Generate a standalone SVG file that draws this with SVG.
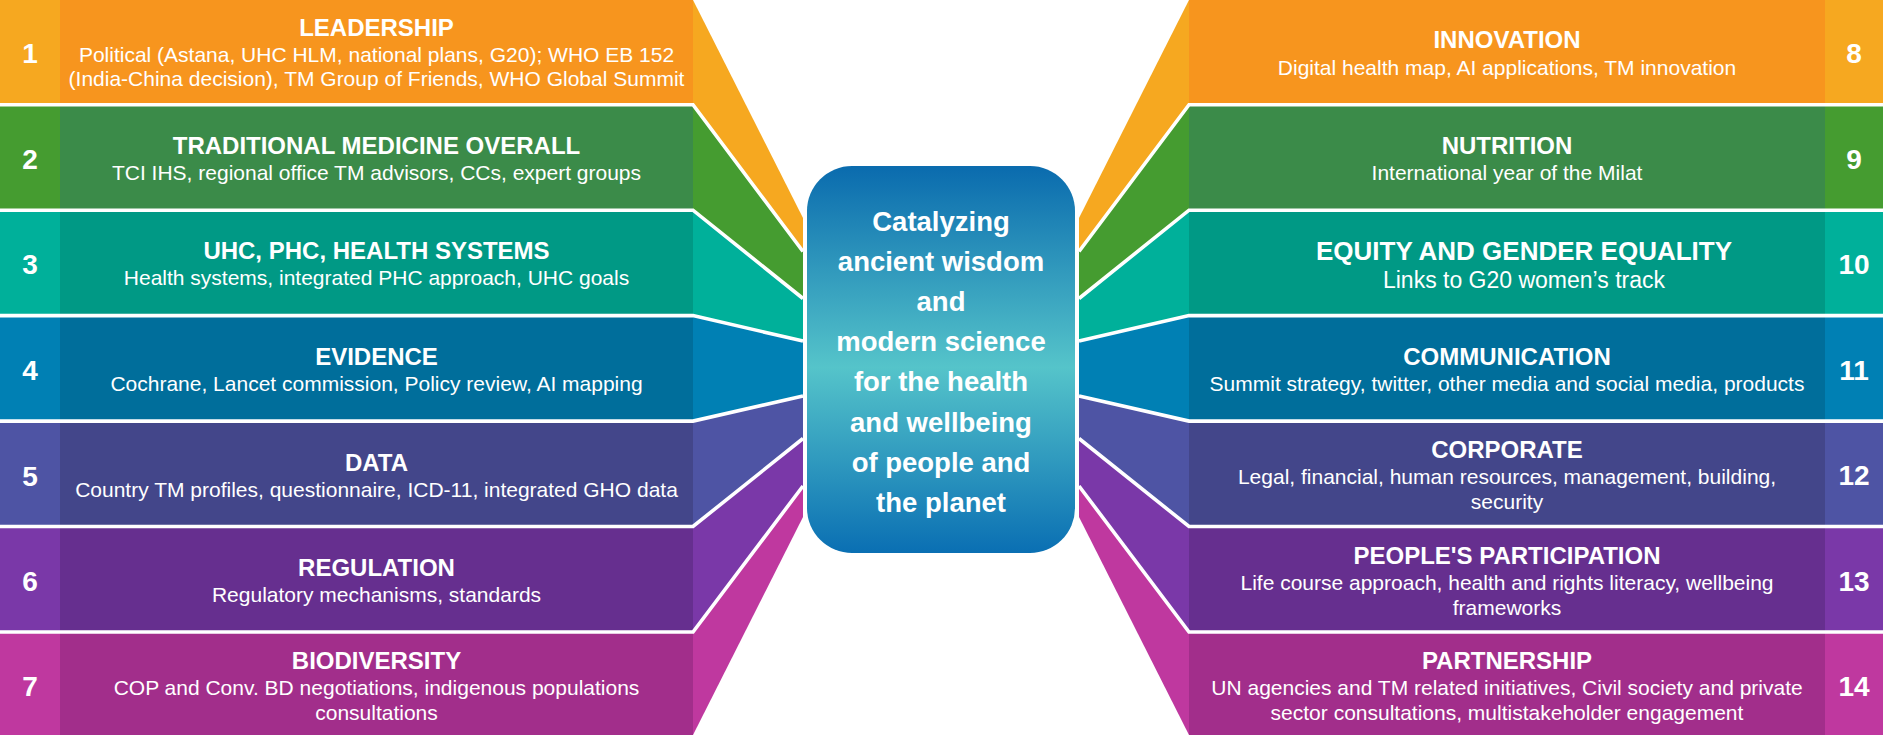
<svg xmlns="http://www.w3.org/2000/svg" width="1883" height="735" viewBox="0 0 1883 735">
<defs>
<style>
text{font-family:"Liberation Sans",Arial,sans-serif;fill:#fff;text-anchor:middle}
.t{font-size:24px;font-weight:bold}
.s{font-size:21px}
.n{font-size:28px;font-weight:bold}
.c{font-size:27.5px;font-weight:bold}
.sep{fill:none;stroke:#fff;stroke-width:3.6}
</style>
<linearGradient id="cg" x1="0" y1="0" x2="0" y2="1">
<stop offset="0" stop-color="#0A6BAE"/>
<stop offset="0.52" stop-color="#55C4CA"/>
<stop offset="1" stop-color="#0A6FB3"/>
</linearGradient>
</defs>
<rect width="1883" height="735" fill="#fff"/>

<g id="connectors">
<polygon points="693,0 803,218 803,251.5 693,104.7" fill="#F6A820"/>
<polygon points="693,104.7 803,251.5 803,298.5 693,210.2" fill="#459C30"/>
<polygon points="693,210.2 803,298.5 803,341 693,315.6" fill="#00B09A"/>
<polygon points="693,315.6 803,341 803,396 693,421.1" fill="#0080B4"/>
<polygon points="693,421.1 803,396 803,438.5 693,526.5" fill="#4E54A4"/>
<polygon points="693,526.5 803,438.5 803,486 693,632" fill="#7A38A8"/>
<polygon points="693,632 803,486 803,517 693,735" fill="#BF389F"/>

<polygon points="1189,0 1079,218 1079,251.5 1189,104.7" fill="#F6A820"/>
<polygon points="1189,104.7 1079,251.5 1079,298.5 1189,210.2" fill="#459C30"/>
<polygon points="1189,210.2 1079,298.5 1079,341 1189,315.6" fill="#00B09A"/>
<polygon points="1189,315.6 1079,341 1079,396 1189,421.1" fill="#0080B4"/>
<polygon points="1189,421.1 1079,396 1079,438.5 1189,526.5" fill="#4E54A4"/>
<polygon points="1189,526.5 1079,438.5 1079,486 1189,632" fill="#7A38A8"/>
<polygon points="1189,632 1079,486 1079,517 1189,735" fill="#BF389F"/>
</g>

<g id="node-1">
<rect x="0" y="0" width="60" height="104.7" fill="#F6A820"/>
<rect x="60" y="0" width="633" height="104.7" fill="#F7951E"/>
<text class="n" x="30" y="63">1</text>
<text class="t" x="376.5" y="36">LEADERSHIP</text>
<text class="s" x="376.5" y="62">Political (Astana, UHC HLM, national plans, G20); WHO EB 152</text>
<text class="s" x="376.5" y="86">(India-China decision), TM Group of Friends, WHO Global Summit</text>
</g>
<g id="node-2">
<rect x="0" y="104.7" width="60" height="105.5" fill="#459C30"/>
<rect x="60" y="104.7" width="633" height="105.5" fill="#3B8B49"/>
<text class="n" x="30" y="169">2</text>
<text class="t" x="376.5" y="154">TRADITIONAL MEDICINE OVERALL</text>
<text class="s" x="376.5" y="180">TCI IHS, regional office TM advisors, CCs, expert groups</text>
</g>
<g id="node-3">
<rect x="0" y="210.2" width="60" height="105.4" fill="#00B09A"/>
<rect x="60" y="210.2" width="633" height="105.4" fill="#009985"/>
<text class="n" x="30" y="274">3</text>
<text class="t" x="376.5" y="259">UHC, PHC, HEALTH SYSTEMS</text>
<text class="s" x="376.5" y="285">Health systems, integrated PHC approach, UHC goals</text>
</g>
<g id="node-4">
<rect x="0" y="315.6" width="60" height="105.5" fill="#0080B4"/>
<rect x="60" y="315.6" width="633" height="105.5" fill="#006E9B"/>
<text class="n" x="30" y="380">4</text>
<text class="t" x="376.5" y="365">EVIDENCE</text>
<text class="s" x="376.5" y="391">Cochrane, Lancet commission, Policy review, AI mapping</text>
</g>
<g id="node-5">
<rect x="0" y="421.1" width="60" height="105.4" fill="#4E54A4"/>
<rect x="60" y="421.1" width="633" height="105.4" fill="#43468A"/>
<text class="n" x="30" y="486">5</text>
<text class="t" x="376.5" y="470.5">DATA</text>
<text class="s" x="376.5" y="496.5">Country TM profiles, questionnaire, ICD-11, integrated GHO data</text>
</g>
<g id="node-6">
<rect x="0" y="526.5" width="60" height="105.5" fill="#7A38A8"/>
<rect x="60" y="526.5" width="633" height="105.5" fill="#662F8F"/>
<text class="n" x="30" y="591">6</text>
<text class="t" x="376.5" y="575.5">REGULATION</text>
<text class="s" x="376.5" y="601.5">Regulatory mechanisms, standards</text>
</g>
<g id="node-7">
<rect x="0" y="632" width="60" height="103" fill="#BF389F"/>
<rect x="60" y="632" width="633" height="103" fill="#A22E8B"/>
<text class="n" x="30" y="696">7</text>
<text class="t" x="376.5" y="668.5">BIODIVERSITY</text>
<text class="s" x="376.5" y="695">COP and Conv. BD negotiations, indigenous populations</text>
<text class="s" x="376.5" y="720">consultations</text>
</g>

<g id="node-8">
<rect x="1825" y="0" width="58" height="104.7" fill="#F6A820"/>
<rect x="1189" y="0" width="636" height="104.7" fill="#F7951E"/>
<text class="n" x="1854" y="63">8</text>
<text class="t" x="1507" y="48">INNOVATION</text>
<text class="s" x="1507" y="75">Digital health map, AI applications, TM innovation</text>
</g>
<g id="node-9">
<rect x="1825" y="104.7" width="58" height="105.5" fill="#459C30"/>
<rect x="1189" y="104.7" width="636" height="105.5" fill="#3B8B49"/>
<text class="n" x="1854" y="169">9</text>
<text class="t" x="1507" y="153.5">NUTRITION</text>
<text class="s" x="1507" y="180">International year of the Milat</text>
</g>
<g id="node-10">
<rect x="1825" y="210.2" width="58" height="105.4" fill="#00B09A"/>
<rect x="1189" y="210.2" width="636" height="105.4" fill="#009985"/>
<text class="n" x="1854" y="274">10</text>
<text class="t" x="1524" y="259.5" style="font-size:26px">EQUITY AND GENDER EQUALITY</text>
<text class="s" x="1524" y="288" style="font-size:23px">Links to G20 women’s track</text>
</g>
<g id="node-11">
<rect x="1825" y="315.6" width="58" height="105.5" fill="#0080B4"/>
<rect x="1189" y="315.6" width="636" height="105.5" fill="#006E9B"/>
<text class="n" x="1854" y="380">11</text>
<text class="t" x="1507" y="364.5">COMMUNICATION</text>
<text class="s" x="1507" y="390.5">Summit strategy, twitter, other media and social media, products</text>
</g>
<g id="node-12">
<rect x="1825" y="421.1" width="58" height="105.4" fill="#4E54A4"/>
<rect x="1189" y="421.1" width="636" height="105.4" fill="#43468A"/>
<text class="n" x="1854" y="485">12</text>
<text class="t" x="1507" y="457.5">CORPORATE</text>
<text class="s" x="1507" y="483.5">Legal, financial, human resources, management, building,</text>
<text class="s" x="1507" y="508.5">security</text>
</g>
<g id="node-13">
<rect x="1825" y="526.5" width="58" height="105.5" fill="#7A38A8"/>
<rect x="1189" y="526.5" width="636" height="105.5" fill="#662F8F"/>
<text class="n" x="1854" y="591">13</text>
<text class="t" x="1507" y="563.5">PEOPLE'S PARTICIPATION</text>
<text class="s" x="1507" y="590">Life course approach, health and rights literacy, wellbeing</text>
<text class="s" x="1507" y="615">frameworks</text>
</g>
<g id="node-14">
<rect x="1825" y="632" width="58" height="103" fill="#BF389F"/>
<rect x="1189" y="632" width="636" height="103" fill="#A22E8B"/>
<text class="n" x="1854" y="696">14</text>
<text class="t" x="1507" y="668.5">PARTNERSHIP</text>
<text class="s" x="1507" y="695">UN agencies and TM related initiatives, Civil society and private</text>
<text class="s" x="1507" y="720">sector consultations, multistakeholder engagement</text>
</g>

<g id="separators">
<polyline class="sep" points="0,104.7 693,104.7 803,251.5"/>
<polyline class="sep" points="0,210.2 693,210.2 803,298.5"/>
<polyline class="sep" points="0,315.6 693,315.6 803,341"/>
<polyline class="sep" points="0,421.1 693,421.1 803,396"/>
<polyline class="sep" points="0,526.5 693,526.5 803,438.5"/>
<polyline class="sep" points="0,632 693,632 803,486"/>
<polyline class="sep" points="1883,104.7 1189,104.7 1079,251.5"/>
<polyline class="sep" points="1883,210.2 1189,210.2 1079,298.5"/>
<polyline class="sep" points="1883,315.6 1189,315.6 1079,341"/>
<polyline class="sep" points="1883,421.1 1189,421.1 1079,396"/>
<polyline class="sep" points="1883,526.5 1189,526.5 1079,438.5"/>
<polyline class="sep" points="1883,632 1189,632 1079,486"/>
</g>

<g id="center">
<rect x="807" y="166" width="268" height="387" rx="45" ry="45" fill="url(#cg)"/>
<text class="c" x="941" y="230.5">Catalyzing</text>
<text class="c" x="941" y="270.7">ancient wisdom</text>
<text class="c" x="941" y="310.9">and</text>
<text class="c" x="941" y="351.1">modern science</text>
<text class="c" x="941" y="391.3">for the health</text>
<text class="c" x="941" y="431.5">and wellbeing</text>
<text class="c" x="941" y="471.7">of people and</text>
<text class="c" x="941" y="511.9">the planet</text>
</g>
</svg>
